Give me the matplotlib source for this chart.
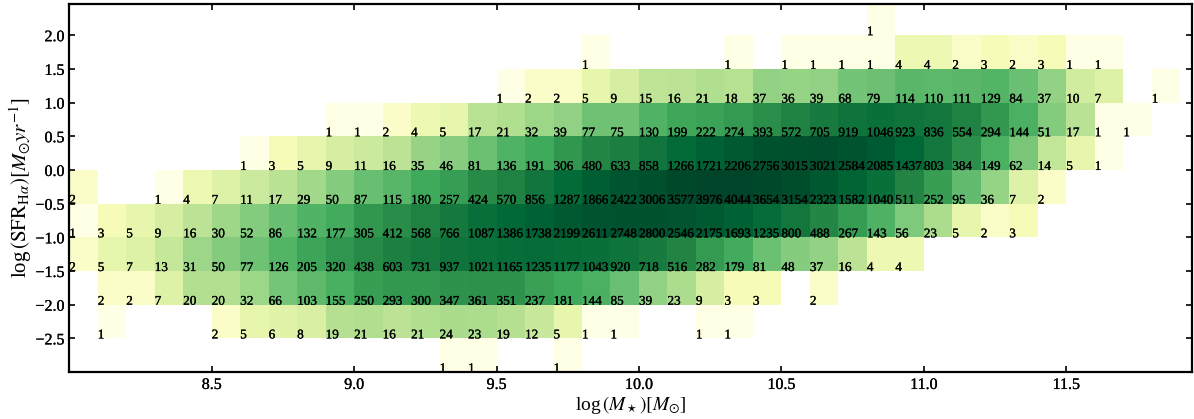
import numpy as np
import matplotlib
matplotlib.use("Agg")
import matplotlib.pyplot as plt
import matplotlib.patheffects as pe
from matplotlib.colors import LogNorm

plt.rcParams['font.family'] = ['Liberation Serif', 'DejaVu Serif']
plt.rcParams['mathtext.fontset'] = 'stix'

# bin edges
mass_edges = np.round(np.arange(8.0, 11.95, 0.1), 1)   # 40 edges, 39 columns
sfr_edges = np.arange(-3.0, 2.51, 0.5)                 # 12 edges, 11 rows

# counts per row, bottom (-3.0..-2.5) to top (2.0..2.5)
row_m30 = [0,0,0,0,0,0,0,0,0,0, 0,0,0,1,1,0,0,1,0,0, 0,0,0,0,0,0,0,0,0,0, 0,0,0,0,0,0,0,0,0]
row_m25 = [0,1,0,0,0,2,5,6,8,19, 21,16,21,24,23,19,12,5,1,1, 0,0,1,1,0,0,0,0,0,0, 0,0,0,0,0,0,0,0,0]
row_m20 = [0,2,2,7,20,20,32,66,103,155, 250,293,300,347,361,351,237,181,144,85,
           39,23,9,3,3,0,2,0,0,0, 0,0,0,0,0,0,0,0,0]
row_m15 = [2,5,7,13,31,50,77,126,205,320, 438,603,731,937,1021,1165,1235,1177,1043,920,
           718,516,282,179,81,48,37,16,4,4, 0,0,0,0,0,0,0,0,0]
row_m10 = [1,3,5,9,16,30,52,86,132,177, 305,412,568,766,1087,1386,1738,2199,2611,2748,
           2800,2546,2175,1693,1235,800,488,267,143,56, 23,5,2,3,0,0,0,0,0]
row_m05 = [2,0,0,1,4,7,11,17,29,50, 87,115,180,257,424,570,856,1287,1866,2422,
           3006,3577,3976,4044,3654,3154,2323,1582,1040,511, 252,95,36,7,2,0,0,0,0]
row_p00 = [0,0,0,0,0,0,1,3,5,9, 11,16,35,46,81,136,191,306,480,633,
           858,1266,1721,2206,2756,3015,3021,2584,2085,1437, 803,384,149,62,14,5,1,0,0]
row_p05 = [0,0,0,0,0,0,0,0,0,1, 1,2,4,5,17,21,32,39,77,75,
           130,199,222,274,393,572,705,919,1046,923, 836,554,294,144,51,17,1,1,0]
row_p10 = [0,0,0,0,0,0,0,0,0,0, 0,0,0,0,0,1,2,2,5,9,
           15,16,21,18,37,36,39,68,79,114, 110,111,129,84,37,10,7,0,1]
row_p15 = [0,0,0,0,0,0,0,0,0,0, 0,0,0,0,0,0,0,0,1,0,
           0,0,0,1,0,1,1,1,1,4, 4,2,3,2,3,1,1,0,0]
row_p20 = [0,0,0,0,0,0,0,0,0,0, 0,0,0,0,0,0,0,0,0,0,
           0,0,0,0,0,0,0,0,1,0, 0,0,0,0,0,0,0,0,0]

counts = np.array([row_m30, row_m25, row_m20, row_m15, row_m10, row_m05,
                   row_p00, row_p05, row_p10, row_p15, row_p20], dtype=float)

fig = plt.figure(figsize=(11.94, 4.19), dpi=100)
ax = fig.add_axes([0.058, 0.112, 0.940, 0.878])

masked = np.ma.masked_where(counts == 0, counts)
ax.pcolormesh(mass_edges, sfr_edges, masked, cmap='YlGn',
              norm=LogNorm(vmin=1, vmax=counts.max()), antialiased=False)

heavy = [pe.withStroke(linewidth=0.2, foreground='black')]
for j in range(counts.shape[0]):
    for i in range(counts.shape[1]):
        if counts[j, i] > 0:
            ax.text(mass_edges[i], sfr_edges[j], '%d' % counts[j, i],
                    ha='left', va='baseline', fontsize=9.5, clip_on=True,
                    path_effects=heavy)

ax.set_xlim(8.0, 11.94)
ax.set_ylim(-3.0, 2.46)
ax.set_xticks([8.5, 9.0, 9.5, 10.0, 10.5, 11.0, 11.5])
ax.set_yticks([-2.5, -2.0, -1.5, -1.0, -0.5, 0.0, 0.5, 1.0, 1.5, 2.0])
ax.tick_params(direction='in', top=True, right=True, labelsize=11.5, length=4, width=1.2)
for lab in ax.get_xticklabels() + ax.get_yticklabels():
    lab.set_path_effects(heavy)
for s in ax.spines.values():
    s.set_linewidth(1.6)

ax.set_xlabel(r'log$\,(M_\star)[M_{\odot}]$', fontsize=14, labelpad=1)
ax.set_ylabel(r'log$\,(\mathrm{SFR}_{\mathrm{H}\alpha})[M_{\odot}yr^{-1}]$', fontsize=15, labelpad=1)

fig.savefig('out.png', dpi=100)
